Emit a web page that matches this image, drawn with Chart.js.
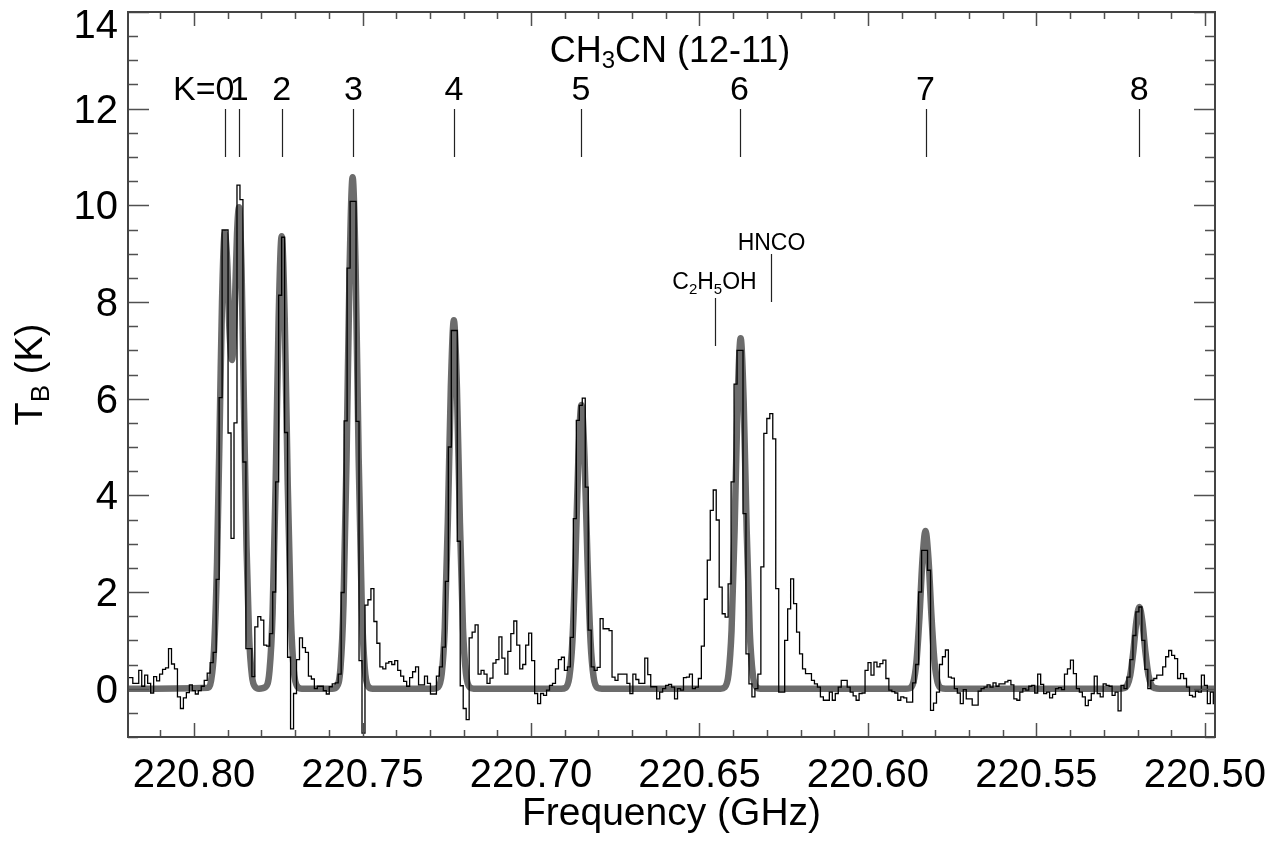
<!DOCTYPE html>
<html><head><meta charset="utf-8">
<script src="https://cdn.jsdelivr.net/npm/chart.js@4.4.1/dist/chart.umd.min.js"></script>
<style>html,body{margin:0;padding:0;background:#fff;}canvas{display:block;}</style>
</head><body>
<canvas id="c" width="1282" height="841"></canvas>
<script>
// ---- data ----
const chanStart = 220.8195;   // GHz, centre of first channel
const chanWidth = 0.0008834;  // GHz per channel
const tb = [
 0.23,0.23,0.11,0.11,0.38,0.05,0.28,0.11,-0.09,0.25,0.16,0.30,0.40,0.43,0.83,0.51,0.41,-0.17,-0.41,-0.19,
 -0.08,0.08,-0.04,-0.11,-0.04,0.05,0.17,0.32,0.54,0.75,2.26,6.02,9.49,9.49,5.29,3.11,5.50,10.42,10.12,4.69,
 0.83,0.83,0.25,1.28,1.49,1.42,0.90,0.88,1.14,2.00,4.28,8.14,9.34,5.30,0.65,-0.83,-0.10,0.60,1.05,0.85,
 0.75,0.26,0.20,0.00,0.05,0.05,-0.04,-0.11,0.04,0.10,0.12,0.30,1.99,5.54,8.70,10.08,10.08,5.53,0.58,-0.92,
 1.73,1.84,2.07,1.39,0.94,0.45,0.41,0.53,0.56,0.50,0.58,0.38,0.26,0.15,0.05,0.23,0.35,0.45,0.08,0.08,
 0.26,0.11,-0.11,-0.11,0.26,0.45,0.86,2.22,5.00,7.41,7.41,3.05,0.06,-0.41,-0.64,1.05,1.17,1.32,0.30,0.38,
 0.30,0.11,0.22,0.53,0.60,1.07,0.63,0.30,0.77,1.14,1.40,0.90,0.41,0.50,0.90,1.15,0.58,-0.10,-0.31,-0.10,
 -0.14,-0.03,0.07,0.11,0.41,0.60,0.65,0.38,0.45,1.06,3.52,5.55,5.86,6.01,4.17,1.21,0.45,0.38,0.44,1.45,
 1.24,1.24,1.20,0.24,0.17,0.30,0.30,0.30,0.11,-0.10,0.30,0.19,0.11,0.11,0.63,0.29,0.04,0.04,-0.21,-0.07,
 0.00,0.07,0.09,0.03,-0.21,0.00,-0.03,0.23,0.24,0.30,0.00,0.03,0.21,0.88,1.85,2.66,3.69,4.11,3.49,2.10,
 1.55,1.48,2.17,4.28,6.30,7.00,7.00,3.62,0.72,0.10,-0.17,0.00,0.30,2.52,5.28,5.59,5.69,5.17,2.07,-0.07,
 -0.07,1.00,1.65,2.27,1.76,1.17,0.72,0.41,0.31,0.31,0.17,0.10,0.03,-0.17,-0.24,-0.24,-0.07,-0.24,-0.10,0.03,
 0.17,0.17,0.03,-0.07,-0.15,-0.24,-0.10,-0.09,0.38,0.54,0.28,0.55,0.45,0.52,0.59,0.21,-0.03,-0.06,-0.09,-0.24,
 -0.17,-0.19,-0.28,-0.28,0.12,0.50,2.00,2.86,2.86,2.45,-0.45,-0.30,-0.07,0.50,0.66,0.80,0.24,0.22,0.00,-0.09,
 -0.31,-0.02,-0.21,-0.21,-0.34,-0.34,-0.05,0.00,0.03,0.08,0.03,0.12,0.05,0.10,0.10,0.14,0.17,0.08,-0.21,-0.24,
 -0.07,0.00,-0.03,0.05,0.07,-0.09,0.30,0.09,-0.10,-0.07,-0.19,-0.12,0.00,0.02,-0.02,0.30,0.41,0.59,0.31,0.00,
 -0.07,-0.17,-0.35,-0.24,-0.10,0.26,-0.10,-0.17,0.10,0.07,0.05,-0.14,-0.07,-0.46,0.07,0.00,0.24,0.60,1.10,1.59,
 1.69,1.00,0.40,0.00,0.17,0.21,0.28,0.28,0.45,0.66,0.79,0.69,0.62,0.21,0.31,0.21,0.03,-0.14,-0.17,-0.05,
 -0.07,0.28,0.07,-0.31,-0.07,-0.31
];

const fitFreq = [
 220.8196,
 220.79585,220.79496,220.79407,220.79318,220.79229,220.79170,220.79090,220.79021,220.78947,220.78873,
 220.78799,220.78725,220.78665,220.78591,220.78517,220.78443,220.78369,220.78280,220.78191,220.78072,
 220.77869,220.77759,220.77669,220.77579,220.77489,220.77399,220.77309,220.77219,220.77129,220.77039,220.76929,220.76800,
 220.75900,220.75764,220.75654,220.75564,220.75474,220.75384,220.75294,220.75204,220.75114,220.75024,220.74934,220.74824,220.74700,
 220.72880,220.72759,220.72649,220.72559,220.72469,220.72379,220.72289,220.72199,220.72109,220.72019,220.71929,220.71819,220.71700,
 220.69100,220.68972,220.68862,220.68772,220.68682,220.68592,220.68502,220.68412,220.68322,220.68232,220.68142,220.68032,220.67900,
 220.64370,220.64248,220.64138,220.64048,220.63958,220.63868,220.63778,220.63688,220.63598,220.63508,220.63418,220.63308,220.63190,
 220.58880,220.58762,220.58652,220.58562,220.58472,220.58382,220.58292,220.58202,220.58112,220.58022,220.57932,220.57822,220.57700,
 220.52540,220.52415,220.52305,220.52215,220.52125,220.52035,220.51945,220.51855,220.51765,220.51675,220.51585,220.51475,220.51350,
 220.4970
];
const fitTb = [
 0,
 0.02,0.16,0.80,2.60,5.80,8.00,9.42,8.90,7.40,6.80,
 7.70,9.40,9.96,8.70,5.80,2.95,1.13,0.26,0.04,0,
 0.04,0.38,1.55,4.21,7.67,9.36,7.67,4.21,1.55,0.38,0.04,0,
 0,0.04,0.43,1.76,4.76,8.67,10.58,8.67,4.76,1.76,0.43,0.04,0,
 0,0.03,0.31,1.26,3.43,6.24,7.62,6.24,3.43,1.26,0.31,0.03,0,
 0,0.02,0.24,0.97,2.64,4.81,5.87,4.81,2.64,0.97,0.24,0.02,0,
 0,0.03,0.30,1.20,3.26,5.94,7.25,5.94,3.26,1.20,0.30,0.03,0,
 0,0.01,0.13,0.54,1.47,2.67,3.26,2.67,1.47,0.54,0.13,0.01,0,
 0,0.01,0.07,0.28,0.76,1.38,1.69,1.38,0.76,0.28,0.07,0.01,0,
 0
];

// line identifications
const kFreqs  = [220.7908,220.7866,220.7740,220.7527,220.7229,220.6852,220.6381,220.5829,220.5195];
const kLabels = ["0","1","2","3","4","5","6","7","8"];
const hncoFreq = 220.6289;
const c2h5ohFreq = 220.6455;

// axes
const xMin = 220.497, xMax = 220.8196, yMin = -1, yMax = 14;
const xMajorTicks = [220.80,220.75,220.70,220.65,220.60,220.55,220.50];
const xTickLabels = ["220.80","220.75","220.70","220.65","220.60","220.55","220.50"];
const yMajorTicks = [0,2,4,6,8,10,12,14];
const yTickLabels = ["0","2","4","6","8","10","12","14"];
const xMinorStep = 0.01, yMinorStep = 0.5;

// ---- build chart ----
const specData = tb.map((v,i)=>({x: chanStart - i*chanWidth, y: v}));
const fitData = fitFreq.map((f,i)=>({x: f, y: fitTb[i]}));
const FONT = '"Liberation Sans", Arial, Helvetica, sans-serif';

function drawRich(ctx, parts, x, y, align){
  let total = 0;
  parts.forEach(p=>{ ctx.font = p.size+'px '+FONT; p.w = ctx.measureText(p.t).width; total += p.w; });
  let cx = align==='center' ? x - total/2 : (align==='right' ? x - total : x);
  ctx.textAlign = 'left'; ctx.textBaseline = 'alphabetic';
  parts.forEach(p=>{ ctx.font = p.size+'px '+FONT; ctx.fillText(p.t, cx, y + (p.dy||0)); cx += p.w; });
}

const decor = {
  id: 'decor',
  afterDraw(chart){
    const {ctx, chartArea:a, scales:{x, y}} = chart;
    ctx.save();
    // tick marks (inward, all four sides)
    ctx.strokeStyle = '#505050'; ctx.lineWidth = 1.5;
    ctx.beginPath();
    for (let k = 0; k <= 31; k++){
      const v = 220.50 + k*xMinorStep;
      if (v < xMin || v > xMax) continue;
      const px = Math.round(x.getPixelForValue(v)) + 0.5;
      const major = xMajorTicks.some(t=>Math.abs(t-v)<1e-6);
      const L = major ? 14 : 7;
      ctx.moveTo(px, a.bottom); ctx.lineTo(px, a.bottom - L);
      ctx.moveTo(px, a.top); ctx.lineTo(px, a.top + L);
    }
    for (let k = 0; k <= 30; k++){
      const v = yMin + k*yMinorStep;
      if (v < yMin || v > yMax) continue;
      const py = Math.round(y.getPixelForValue(v)) + 0.5;
      const major = yMajorTicks.some(t=>Math.abs(t-v)<1e-6);
      const L = major ? 21 : 10;
      ctx.moveTo(a.left, py); ctx.lineTo(a.left + L, py);
      ctx.moveTo(a.right, py); ctx.lineTo(a.right - L, py);
    }
    ctx.stroke();
    // frame
    ctx.strokeStyle = '#444'; ctx.lineWidth = 2;
    ctx.strokeRect(a.left, a.top, a.right - a.left, a.bottom - a.top);

    ctx.fillStyle = '#000';
    // x tick labels
    ctx.font = '40px ' + FONT; ctx.textAlign = 'center'; ctx.textBaseline = 'alphabetic';
    xMajorTicks.forEach((v,i)=>{ ctx.fillText(xTickLabels[i], x.getPixelForValue(v), 787); });
    // y tick labels
    ctx.textAlign = 'right';
    yMajorTicks.forEach((v,i)=>{
      const py = Math.max(y.getPixelForValue(v), 24);
      ctx.fillText(yTickLabels[i], 118, py + 14);
    });
    // x title
    ctx.font = '39px ' + FONT; ctx.textAlign = 'center';
    ctx.fillText('Frequency (GHz)', (a.left + a.right)/2, 825);
    // y title (rotated)
    ctx.save();
    ctx.translate(42, (a.top + a.bottom)/2);
    ctx.rotate(-Math.PI/2);
    drawRich(ctx, [{t:'T',size:38},{t:'B',size:26,dy:7},{t:' (K)',size:38}], 0, 0, 'center');
    ctx.restore();

    // species title
    drawRich(ctx, [{t:'CH',size:36},{t:'3',size:24,dy:6},{t:'CN (12-11)',size:36}], 670, 62, 'center');
    // K labels and markers
    ctx.font = '34px ' + FONT; ctx.textAlign = 'center';
    ctx.strokeStyle = '#222'; ctx.lineWidth = 1.2;
    ctx.beginPath();
    kFreqs.forEach((f,i)=>{
      const px = Math.round(x.getPixelForValue(f)) + 0.5;
      ctx.moveTo(px, 109); ctx.lineTo(px, 157);
    });
    ctx.stroke();
    kFreqs.forEach((f,i)=>{
      ctx.textAlign = 'center';
      ctx.fillText(kLabels[i], x.getPixelForValue(f), 99.5);
    });
    const w0 = ctx.measureText('0').width;
    ctx.textAlign = 'right';
    ctx.fillText('K=', x.getPixelForValue(kFreqs[0]) - w0/2, 99.5);

    // HNCO and C2H5OH
    const hx = Math.round(x.getPixelForValue(hncoFreq)) + 0.5;
    const cx = Math.round(x.getPixelForValue(c2h5ohFreq)) + 0.5;
    ctx.beginPath();
    ctx.moveTo(hx, 254); ctx.lineTo(hx, 302);
    ctx.moveTo(cx, 298); ctx.lineTo(cx, 346);
    ctx.stroke();
    drawRich(ctx, [{t:'HNCO',size:23}], hx, 250, 'center');
    drawRich(ctx, [{t:'C',size:23},{t:'2',size:15,dy:5},{t:'H',size:23},{t:'5',size:15,dy:5},{t:'OH',size:23}], cx - 1, 289, 'center');
    ctx.restore();
  }
};

new Chart(document.getElementById('c').getContext('2d'), {
  type: 'line',
  data: { datasets: [
    { label: 'spectrum', data: specData, borderColor: '#000', borderWidth: 1.3, pointRadius: 0,
      stepped: 'middle', order: 0, clip: 0, fill: false },
    { label: 'fit', data: fitData, borderColor: '#6c6c6c', borderWidth: 6.5, pointRadius: 0,
      cubicInterpolationMode: 'monotone', borderJoinStyle: 'round', borderCapStyle: 'round',
      order: 1, clip: 0, fill: false }
  ]},
  options: {
    responsive: false, animation: false, devicePixelRatio: 1,
    layout: { padding: { left: 128, right: 67, top: 12, bottom: 104 } },
    plugins: { legend: { display: false }, tooltip: { enabled: false } },
    scales: {
      x: { type: 'linear', reverse: true, min: xMin, max: xMax, display: false },
      y: { type: 'linear', min: yMin, max: yMax, display: false }
    }
  },
  plugins: [decor]
});
</script>
</body></html>
